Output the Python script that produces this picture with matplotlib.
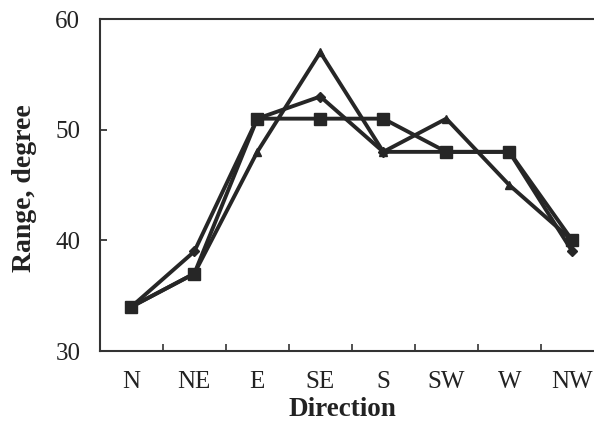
import numpy as np
import matplotlib
matplotlib.use('Agg')
import matplotlib.pyplot as plt

directions = ['N', 'NE', 'E', 'SE', 'S', 'SW', 'W', 'NW']
range_square = [34, 37, 51, 51, 51, 48, 48, 40]
range_triangle = [34, 37, 48, 57, 48, 51, 45, 40]
range_diamond = [34, 39, 51, 53, 48, 48, 48, 39]

plt.rcParams['font.family'] = ['Liberation Serif', 'DejaVu Serif']

fig = plt.figure(figsize=(5.94, 4.23), dpi=100)
ax = fig.add_axes([0.168, 0.170, 0.8485, 0.785])

x = np.arange(len(directions))
col = '#262626'
ax.plot(x, range_diamond, color=col, lw=2.8, marker='D', ms=5, zorder=3)
ax.plot(x, range_triangle, color=col, lw=2.8, marker='^', ms=6, zorder=3)
ax.plot(x, range_square, color=col, lw=2.8, marker='s', ms=8, zorder=4)

ax.set_xlim(-0.5, 7.5)
ax.set_ylim(30, 60)
ax.set_yticks([30, 40, 50, 60])
ax.set_xticks(x)
ax.set_xticklabels(directions)
ax.set_xticks(np.arange(0.5, 7, 1), minor=True)
ax.tick_params(axis='x', which='major', length=0, pad=14, labelsize=18, colors='#222222')
ax.tick_params(axis='x', which='minor', direction='in', length=5, width=1.2, color='#333333')
ax.tick_params(axis='y', direction='in', length=5, width=1.2, pad=14, labelsize=18, colors='#222222')

for s in ax.spines.values():
    s.set_linewidth(1.5)
    s.set_color('#333333')

ax.set_xlabel('Direction', fontsize=19.5, fontweight='bold', color='#222222')
ax.set_ylabel('Range, degree', fontsize=20, fontweight='bold', color='#222222')
ax.xaxis.set_label_coords(0.482, -0.138)
ax.yaxis.set_label_coords(-0.125, 0.49)

fig.savefig('out.png', dpi=100)
